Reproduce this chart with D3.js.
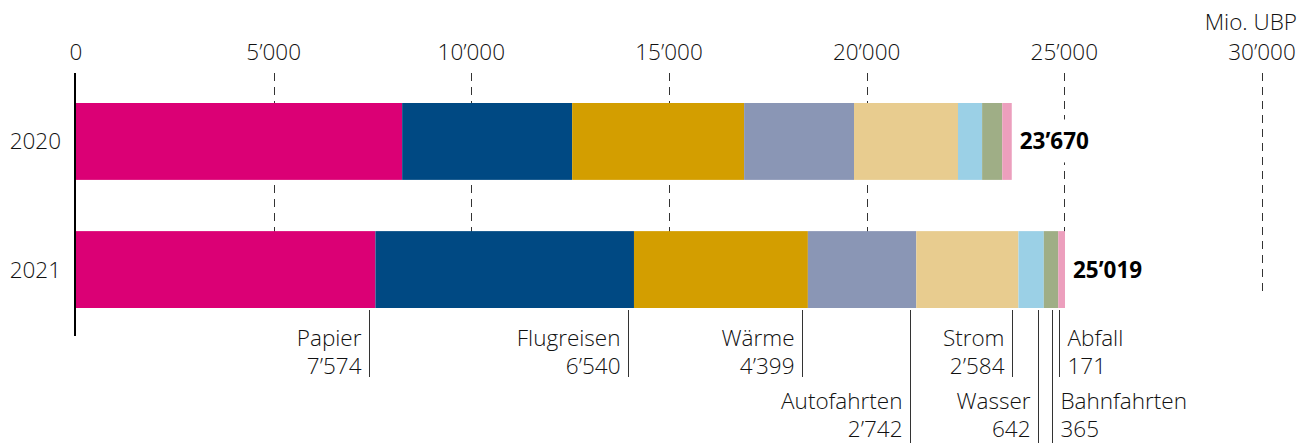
<!DOCTYPE html>
<html>
<head>
<meta charset="utf-8">
<script src="https://cdn.jsdelivr.net/npm/d3@7"></script>
<style>
  body { margin: 0; background: #fff; }
  svg { display: block; font-family: "Open Sans", sans-serif; font-weight: 330; }
</style>
</head>
<body>
<svg id="chart"></svg>
<script>
// values in Mio. UBP
const categories = ['Papier', 'Flugreisen', 'Wärme', 'Autofahrten', 'Strom', 'Wasser', 'Bahnfahrten', 'Abfall'];
const years = ['2020', '2021'];
const values2020 = [8250, 4300, 4350, 2780, 2630, 610, 510, 240];
const values2021 = [7574, 6540, 4399, 2742, 2584, 642, 365, 171];
const totals = [23670, 25019];
const tickValues = [0, 5000, 10000, 15000, 20000, 25000, 30000];
const unitLabel = 'Mio. UBP';

const colors = ['#db0075', '#004983', '#d39e00', '#8a96b5', '#e8cc8f', '#9bd0e6', '#9fae86', '#ec9fbd'];

const width = 1309,
	height = 443,
	fontSize = 22.5,
	textColor = '#111';

// label layout below the 2021 bar: row (0 = upper, 1 = lower), side of the leader line
const labelRow = [0, 0, 0, 1, 0, 1, 1, 0];
const labelSide = ['l', 'l', 'l', 'l', 'l', 'l', 'r', 'r'];

const fmt = d3.formatLocale({
	decimal: '.',
	thousands: '\u2019',
	grouping: [3],
	currency: ['', '']
}).format(',d');

const x = d3.scaleLinear()
	.domain([0, 30000])
	.range([76, 1262]);

const y = d3.scaleBand()
	.domain(years)
	.range([103, 308])
	.paddingInner(0.4);

const svg = d3.select('#chart')
	.attr('width', width)
	.attr('height', height);

// dashed grid lines (behind bars)
svg.append('g')
	.selectAll('line')
	.data(tickValues.filter(d => d > 0))
	.join('line')
	.attr('x1', d => Math.round(x(d)) + 0.5)
	.attr('x2', d => Math.round(x(d)) + 0.5)
	.attr('y1', 73)
	.attr('y2', 293)
	.attr('stroke', '#333')
	.attr('stroke-width', 1)
	.attr('stroke-dasharray', '8,6');

// tick labels on top
svg.append('g')
	.selectAll('text')
	.data(tickValues)
	.join('text')
	.attr('x', d => x(d))
	.attr('y', 60)
	.attr('text-anchor', 'middle')
	.attr('font-size', fontSize)
	.attr('fill', textColor)
	.text(d => fmt(d));

svg.append('text')
	.attr('x', 1297)
	.attr('y', 30)
	.attr('text-anchor', 'end')
	.attr('font-size', fontSize)
	.attr('fill', textColor)
	.text(unitLabel);

// stacked bars
const series = [values2020, values2021].map((vals, yi) => {
	let acc = 0;
	return vals.map((v, i) => {
		const seg = { year: years[yi], cat: categories[i], i: i, x0: acc, x1: acc + v, value: v };
		acc += v;
		return seg;
	});
});

svg.append('g')
	.selectAll('g')
	.data(series)
	.join('g')
	.selectAll('rect')
	.data(d => d)
	.join('rect')
	.attr('x', d => x(d.x0))
	.attr('y', d => y(d.year))
	.attr('width', d => x(d.x1) - x(d.x0))
	.attr('height', y.bandwidth())
	.attr('fill', d => colors[d.i]);

// year labels
svg.append('g')
	.selectAll('text')
	.data(years)
	.join('text')
	.attr('x', 61)
	.attr('y', d => y(d) + y.bandwidth() / 2 + 8)
	.attr('text-anchor', 'end')
	.attr('font-size', fontSize)
	.attr('fill', textColor)
	.text(d => d);

// totals, on a white patch so the grid line doesn't run through them
const totalG = svg.append('g')
	.selectAll('g')
	.data(series)
	.join('g');

const bg = totalG.append('rect').attr('fill', '#fff');

totalG.append('text')
	.attr('x', d => x(d[d.length - 1].x1) + 8)
	.attr('y', (d, i) => y(years[i]) + y.bandwidth() / 2 + 8)
	.attr('font-size', fontSize)
	.attr('font-weight', 'bold')
	.attr('fill', '#000')
	.text((d, i) => fmt(totals[i]))
	.each(function () {
		const b = this.getBBox();
		d3.select(this.previousSibling)
			.attr('x', b.x - 2)
			.attr('y', b.y - 6)
			.attr('width', b.width + 4)
			.attr('height', b.height + 12);
	});

// vertical axis line
svg.append('line')
	.attr('x1', 75)
	.attr('x2', 75)
	.attr('y1', 73)
	.attr('y2', 336)
	.attr('stroke', '#000')
	.attr('stroke-width', 2);

// leader lines + labels for 2021
const rowTop = [346, 409];
const lineEnd = [377, 443];
const ann = svg.append('g')
	.selectAll('g')
	.data(series[1])
	.join('g')
	.attr('transform', d => `translate(${Math.round(x(d.x1)) - 5.5},0)`);

ann.append('line')
	.attr('y1', 310)
	.attr('y2', d => lineEnd[labelRow[d.i]])
	.attr('stroke', '#333')
	.attr('stroke-width', 1);

const annText = ann.append('text')
	.attr('font-size', fontSize)
	.attr('fill', textColor)
	.attr('text-anchor', d => labelSide[d.i] === 'l' ? 'end' : 'start');

annText.append('tspan')
	.attr('x', d => labelSide[d.i] === 'l' ? -8 : 8)
	.attr('y', d => rowTop[labelRow[d.i]])
	.text(d => d.cat);

annText.append('tspan')
	.attr('x', d => labelSide[d.i] === 'l' ? -8 : 8)
	.attr('y', d => rowTop[labelRow[d.i]] + 28)
	.text(d => fmt(d.value));
</script>
</body>
</html>
